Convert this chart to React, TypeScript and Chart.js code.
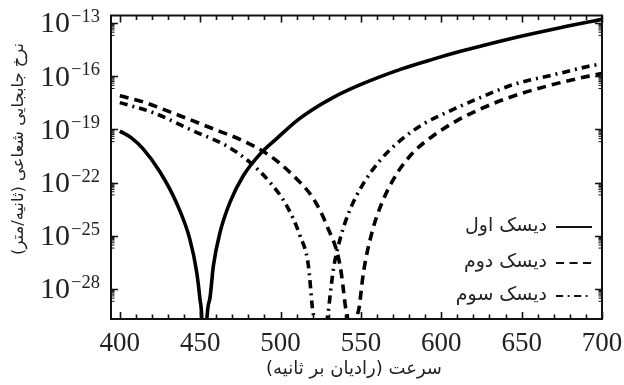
import React, { useEffect, useRef } from "react";
import { Chart, registerables } from "chart.js";

Chart.register(...registerables);

// ---- data (speed in rad/s, rate in m/s) ----
const disk1Speed = [400, 407, 414.5, 425, 435, 443.5, 447.8, 449.8, 451.3, 452.5, 453.7, 456, 458.2, 462.3, 468.5, 476.8, 487.2, 497.6, 510, 520, 532, 550, 575, 595, 612, 643, 674, 700];
const disk1Rate = [7.9e-20, 3.4e-20, 7.9e-21, 3.9e-22, 7.9e-24, 6.6e-26, 8.9e-28, 2.8e-29, 2.5e-31, 1e-40, 2.5e-31, 2.8e-29, 2.0e-27, 1.5e-25, 7.6e-24, 2.4e-22, 4.0e-21, 3.0e-20, 3.0e-19, 1.32e-18, 5.8e-18, 3.4e-17, 2.5e-16, 9.1e-16, 2.5e-15, 1.3e-14, 5.4e-14, 1.6e-13];

const disk2Speed = [400, 414.5, 435.3, 456, 476.8, 493.5, 508, 520.5, 528.8, 537, 540.2, 542.5, 544.5, 546.5, 549, 551.6, 556.8, 563, 572.4, 582.8, 595.2, 609.8, 626.4, 645.1, 665.8, 691.8, 700];
const disk2Rate = [7.9e-18, 3.5e-18, 6.9e-19, 1.26e-19, 2.2e-20, 3.2e-21, 2.4e-22, 1.2e-23, 3.7e-25, 2.1e-27, 1.26e-29, 1e-31, 1e-40, 1e-31, 1.0e-29, 8.5e-28, 1.45e-25, 6.9e-24, 3.2e-22, 5.2e-21, 4.5e-20, 3.1e-19, 1.7e-18, 7.6e-18, 2.75e-17, 1.0e-16, 1.4e-16];

const disk3Speed = [400, 420.8, 445.7, 466.5, 481, 493.5, 503.8, 512.1, 517.3, 519.6, 522, 525, 528, 530.2, 532.9, 537, 543.2, 551.6, 562, 574.4, 588.9, 605.5, 624.3, 645.1, 670, 691.8, 700];
const disk3Rate = [3.2e-18, 8.7e-19, 8.1e-20, 1.15e-20, 1.35e-21, 1.0e-22, 4.9e-24, 1.0e-25, 2.1e-27, 1.26e-29, 1e-31, 1e-40, 1e-31, 1.26e-29, 1.3e-27, 6.3e-26, 2.95e-24, 8.9e-23, 1.8e-21, 2.3e-20, 2.0e-19, 1.1e-18, 6.2e-18, 3.4e-17, 1.2e-16, 3.6e-16, 5.0e-16];

const seriesLabels = ["دیسک اول", "دیسک دوم", "دیسک سوم"];
const xTickValues = [400, 450, 500, 550, 600, 650, 700];
const yTickExponents = [-13, -16, -19, -22, -25, -28];
const xTitle = "سرعت (رادیان بر ثانیه)";
const yTitle = "نرخ جابجایی شعاعی (ثانیه/متر)";

const X_MIN = 394.5;
const X_MAX = 700;
const Y_MIN = Math.pow(10, -29.63);
const Y_MAX = Math.pow(10, -12.58);

const dashes: number[][] = [[], [9, 6], [8, 5, 2, 5]];

function toPoints(xs: number[], ys: number[]) {
  return xs.map((x, i) => ({ x, y: ys[i] }));
}

const INK = "#111";
const TEXT = "#222";
const ARABIC_FONT = '"DejaVu Sans", "Noto Sans", sans-serif';
const SERIF = '"Liberation Serif", "DejaVu Serif", serif';

function fitSize(ctx: CanvasRenderingContext2D, text: string, target: number, base: number) {
  ctx.font = `${base}px ${ARABIC_FONT}`;
  const w = ctx.measureText(text).width || 1;
  return (base * target) / w;
}

const framePlugin = {
  id: "frameDecor",
  afterDatasetsDraw(chart: any) {
    const { ctx, chartArea: a, scales } = chart;
    const xs = scales.x;
    const ys = scales.y;
    ctx.save();
    // frame
    ctx.strokeStyle = INK;
    ctx.lineWidth = 2;
    ctx.setLineDash([]);
    ctx.strokeRect(a.left, a.top, a.right - a.left, a.bottom - a.top);

    // x ticks (inward, bottom and top)
    ctx.lineWidth = 1.6;
    for (let v = 400; v <= 700; v += 10) {
      const px = Math.round(xs.getPixelForValue(v)) + 0.5;
      const len = v % 50 === 0 ? 7 : 4.5;
      ctx.beginPath();
      ctx.moveTo(px, a.bottom);
      ctx.lineTo(px, a.bottom - len);
      ctx.moveTo(px, a.top);
      ctx.lineTo(px, a.top + len);
      ctx.stroke();
    }
    // y ticks (inward, left and right)
    for (const n of yTickExponents) {
      const py = Math.round(ys.getPixelForValue(Math.pow(10, n))) + 0.5;
      ctx.lineWidth = 1.6;
      ctx.beginPath();
      ctx.moveTo(a.left, py);
      ctx.lineTo(a.left + 7, py);
      ctx.moveTo(a.right, py);
      ctx.lineTo(a.right - 7, py);
      ctx.stroke();
      ctx.lineWidth = 1;
      for (let k = 2; k <= 9; k++) {
        const v = k * Math.pow(10, n - 1);
        if (v < Y_MIN) continue;
        const p = ys.getPixelForValue(v);
        ctx.beginPath();
        ctx.moveTo(a.left, p);
        ctx.lineTo(a.left + 3.5, p);
        ctx.moveTo(a.right, p);
        ctx.lineTo(a.right - 3.5, p);
        ctx.stroke();
      }
    }

    // x tick labels
    ctx.fillStyle = TEXT;
    ctx.font = `27px ${SERIF}`;
    ctx.textAlign = "center";
    ctx.textBaseline = "alphabetic";
    for (const v of xTickValues) {
      ctx.fillText(String(v), xs.getPixelForValue(v), 351);
    }

    // y tick labels 10^n
    for (const n of yTickExponents) {
      const py = ys.getPixelForValue(Math.pow(10, n));
      const exp = "\u2212" + String(Math.abs(n));
      ctx.font = `18.5px ${SERIF}`;
      const ew = ctx.measureText(exp).width;
      ctx.textAlign = "left";
      ctx.fillText(exp, 100 - ew, py - 1);
      ctx.font = `30px ${SERIF}`;
      ctx.textAlign = "right";
      ctx.fillText("10", 100 - ew - 1, py + 9.5);
    }

    // axis titles
    ctx.fillStyle = TEXT;
    ctx.textBaseline = "middle";
    ctx.textAlign = "center";
    (ctx as any).direction = "rtl";
    const xs1 = fitSize(ctx, xTitle, 176, 15);
    ctx.font = `${xs1}px ${ARABIC_FONT}`;
    ctx.fillText(xTitle, 354, 369);

    const ys1 = fitSize(ctx, yTitle, 212, 15);
    ctx.save();
    ctx.translate(19, 149);
    ctx.rotate(-Math.PI / 2);
    ctx.font = `${ys1}px ${ARABIC_FONT}`;
    ctx.fillText(yTitle, 0, 0);
    ctx.restore();

    // legend
    const rowsY = [226, 262, 295];
    const ls = fitSize(ctx, seriesLabels[0], 82, 15);
    for (let i = 0; i < seriesLabels.length; i++) {
      const y = rowsY[i];
      ctx.font = `${ls}px ${ARABIC_FONT}`;
      ctx.textAlign = "right";
      ctx.textBaseline = "middle";
      (ctx as any).direction = "rtl";
      ctx.fillStyle = TEXT;
      ctx.fillText(seriesLabels[i], 547, y);
      ctx.strokeStyle = INK;
      ctx.lineWidth = 2;
      ctx.lineCap = "butt";
      ctx.setLineDash(dashes[i].length ? dashes[i].map((d) => d * 0.9) : []);
      ctx.beginPath();
      ctx.moveTo(556, y + 1);
      ctx.lineTo(592, y + 1);
      ctx.stroke();
    }
    ctx.restore();
  },
};

export default function App() {
  const ref = useRef<HTMLCanvasElement | null>(null);
  useEffect(() => {
    if (!ref.current) return;
    const series = [
      toPoints(disk1Speed, disk1Rate),
      toPoints(disk2Speed, disk2Rate),
      toPoints(disk3Speed, disk3Rate),
    ];
    const hidden = {
      display: true,
      ticks: { display: false },
      grid: { display: false, drawTicks: false },
      border: { display: false },
      title: { display: false },
    };
    const chart = new Chart(ref.current, {
      type: "line",
      data: {
        datasets: series.map((pts, i) => ({
          label: seriesLabels[i],
          data: pts,
          borderColor: "#000",
          borderWidth: 3.6,
          borderDash: dashes[i],
          borderCapStyle: "butt" as const,
          pointRadius: 0,
          fill: false,
          cubicInterpolationMode: "monotone" as const,
          clip: 0,
        })),
      },
      options: {
        animation: false,
        responsive: false,
        devicePixelRatio: 1,
        layout: { padding: { left: 111, top: 15.5, right: 22, bottom: 66 } },
        scales: {
          x: { type: "linear", min: X_MIN, max: X_MAX, ...hidden } as any,
          y: { type: "logarithmic", min: Y_MIN, max: Y_MAX, ...hidden } as any,
        },
        plugins: {
          legend: { display: false },
          tooltip: { enabled: false },
        },
      },
      plugins: [framePlugin],
    });
    return () => chart.destroy();
  }, []);
  return (
    <div style={{ position: "fixed", left: 0, top: 0, width: 624, height: 385, background: "#fff" }}>
      <canvas ref={ref} width={624} height={385} style={{ display: "block", width: 624, height: 385 }} />
    </div>
  );
}
